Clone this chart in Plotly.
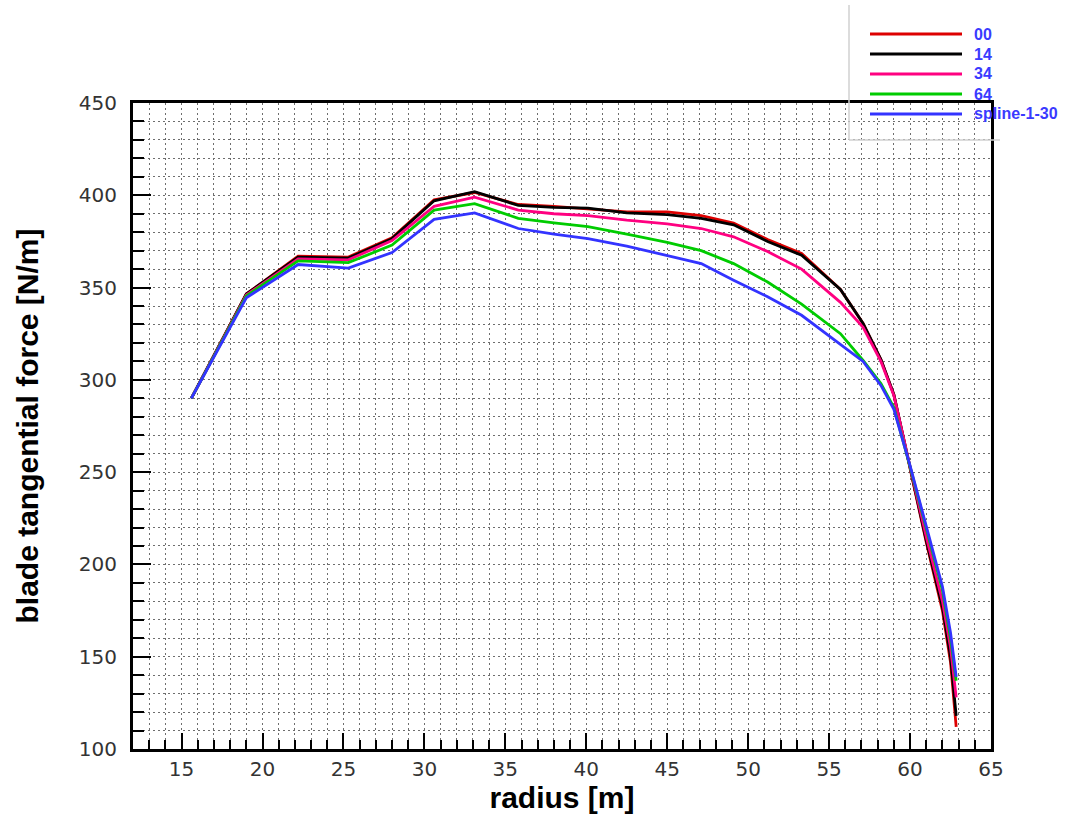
import plotly.graph_objects as go

# ---- data ----
radius = [15.6, 19.0, 22.2, 25.3, 28.0, 30.6, 33.1, 35.8, 38.0, 40.1, 42.5, 45.0,
          47.1, 49.1, 51.2, 53.3, 55.7, 57.1, 58.2, 59.0, 60.0, 61.0, 62.0, 62.5, 62.85]

force_00 = [290, 346.5, 367, 366.5, 377, 397.5, 401.5, 395, 394, 392.5, 391, 391,
            389, 385, 376, 368.5, 349, 330.5, 311, 292, 252, 212, 175, 147, 112]
force_14 = [290, 346.5, 366.5, 366, 376.5, 397, 402, 394.5, 393.5, 393, 390.5, 389.5,
            387.5, 384, 375, 367.5, 349, 330.5, 311, 292, 252.5, 213, 177, 150, 118]
force_34 = [290, 346, 365.5, 365, 375.5, 394, 399, 392, 390, 389, 386.5, 384.5,
            382, 377.5, 369.5, 360, 342, 328.5, 310, 291.5, 253, 215, 180, 155, 128]
force_64 = [290, 345.5, 364.5, 363.5, 373, 392, 395.5, 387.5, 385, 383, 379, 374.5,
            370, 363, 353, 341, 325, 310.5, 298, 285, 253, 219, 186, 160, 137]
force_spline = [290, 344.5, 362.5, 360.5, 369, 387, 390.5, 382, 379, 376.5, 372.5, 367.5,
                363, 354, 345, 335, 319.5, 310, 297, 284, 253.5, 221, 188, 163, 139]

series_names = ["00", "14", "34", "64", "spline-1-30"]
series_values = [force_00, force_14, force_34, force_64, force_spline]
series_colors = ["#dd0000", "#000000", "#ff0080", "#00cc00", "#3333ff"]

x_tick_vals = [15, 20, 25, 30, 35, 40, 45, 50, 55, 60, 65]
y_tick_vals = [100, 150, 200, 250, 300, 350, 400, 450]

# ---- figure ----
fig = go.Figure()
for name, vals, col in zip(series_names, series_values, series_colors):
    fig.add_trace(go.Scatter(x=radius, y=vals, mode="lines", name=name,
                             line=dict(color=col, width=2.8), showlegend=False))

L, R, T, B = 133, 93, 103, 65
W, H = 1084, 814
pw, ph = W - L - R, H - T - B

def px_x(p):
    return (p - L) / pw

def px_y(p):
    return (H - B - p) / ph

# manual legend (long line samples as in the reference)
legend_y = [34, 54, 74, 94, 114]
for name, col, yy in zip(series_names, series_colors, legend_y):
    fig.add_shape(type="line", xref="paper", yref="paper",
                  x0=px_x(870), x1=px_x(962), y0=px_y(yy), y1=px_y(yy),
                  line=dict(color=col, width=2.8))
    fig.add_annotation(xref="paper", yref="paper", x=px_x(972), y=px_y(yy),
                       text="<b>" + name + "</b>", showarrow=False,
                       xanchor="left", yanchor="middle",
                       font=dict(family="Liberation Sans, Arial", size=16, color="#3a3aff"))
# legend frame lines
fig.add_shape(type="line", xref="paper", yref="paper",
              x0=px_x(849), x1=px_x(849), y0=px_y(5), y1=px_y(140),
              line=dict(color="#d0d0d0", width=1.5))
fig.add_shape(type="line", xref="paper", yref="paper",
              x0=px_x(849), x1=px_x(1000), y0=px_y(140), y1=px_y(140),
              line=dict(color="#d0d0d0", width=1.5))

grid_col = "#6e6e6e"
grid_dash = "2px,3px"
tick_font = dict(family="DejaVu Sans", size=20, color="#333333")

fig.update_xaxes(
    range=[12, 65], tickvals=x_tick_vals, ticktext=[str(v) for v in x_tick_vals],
    ticks="inside", ticklen=16, tickwidth=2, tickcolor="black",
    showline=True, linewidth=3, linecolor="black", mirror=True,
    showgrid=True, gridcolor=grid_col, gridwidth=1, griddash=grid_dash,
    minor=dict(dtick=1, tick0=0, ticks="inside", ticklen=9, tickwidth=1.5, tickcolor="black",
               showgrid=True, gridcolor=grid_col, gridwidth=1, griddash=grid_dash),
    tickfont=tick_font, ticklabelstandoff=0, zeroline=False,
    title=dict(text="<b>radius [m]</b>", standoff=13,
               font=dict(family="Liberation Sans, Arial", size=30, color="black")),
    automargin=False,
)
fig.update_yaxes(
    range=[100, 450], tickvals=y_tick_vals, ticktext=[str(v) for v in y_tick_vals],
    ticks="inside", ticklen=18, tickwidth=2, tickcolor="black",
    showline=True, linewidth=3, linecolor="black", mirror=True,
    showgrid=True, gridcolor=grid_col, gridwidth=1, griddash=grid_dash,
    minor=dict(dtick=10, tick0=0, ticks="inside", ticklen=11, tickwidth=1.5, tickcolor="black",
               showgrid=True, gridcolor=grid_col, gridwidth=1, griddash=grid_dash),
    tickfont=tick_font, ticklabelstandoff=9, zeroline=False,
    title=dict(text="<b>blade tangential force [N/m]</b>", standoff=32,
               font=dict(family="Liberation Sans, Arial", size=30, color="black")),
    automargin=False,
)

fig.update_layout(
    width=W, height=H,
    margin=dict(l=L, r=R, t=T, b=B),
    paper_bgcolor="white", plot_bgcolor="white",
    showlegend=False,
)

fig.write_html("out.html")
